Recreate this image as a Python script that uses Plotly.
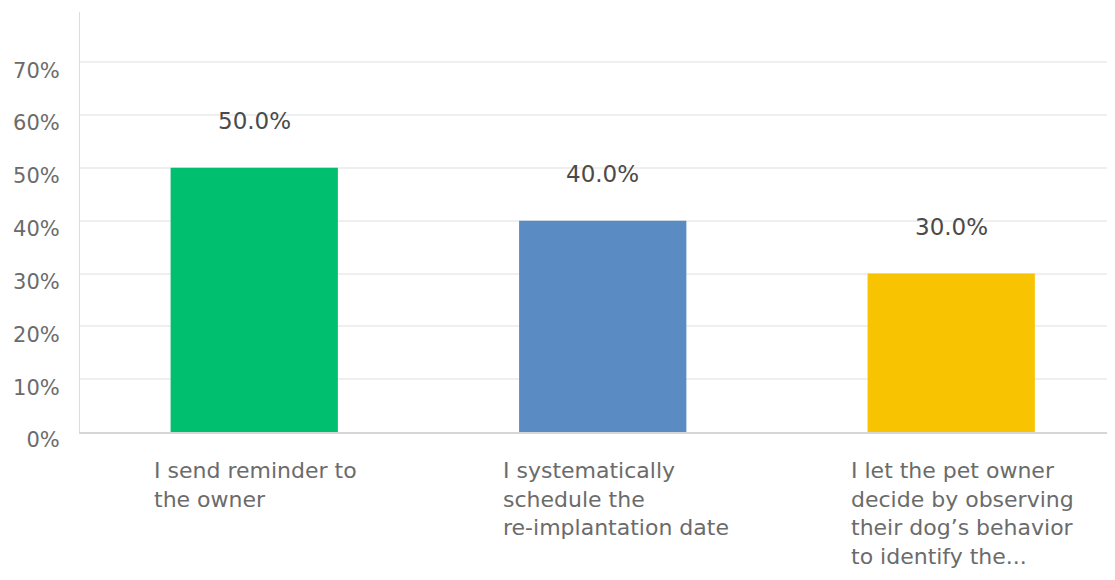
import plotly.graph_objects as go

# Datos
categorias = ['I send reminder to<br>the owner',
              'I systematically<br>schedule the<br>re-implantation date',
              'I let the pet owner<br>decide by observing<br>their dog\u2019s behavior<br>to identify the...']
valores = [50.0, 40.0, 30.0]
colores = ['#00bf6f', '#5a8bc3', '#f8c300']
ticks_y = [0, 10, 20, 30, 40, 50, 60, 70]
ticks_txt = ['0%', '10%', '20%', '30%', '40%', '50%', '60%', '70%']

pos = list(range(len(categorias)))

fig = go.Figure()

fig.add_trace(go.Bar(
    x=pos,
    y=valores,
    width=0.48,
    marker=dict(color=colores, line=dict(width=0)),
    hoverinfo='skip',
))

# etiquetas de valor sobre las barras
for p, v in zip(pos, valores):
    fig.add_annotation(
        x=p, y=v, text=f'{v:.1f}%', showarrow=False,
        yanchor='bottom', yshift=32,
        font=dict(family='DejaVu Sans', size=23, color='#4a4a4a'),
    )

# etiquetas de categoria alineadas a la izquierda
for p, c in zip(pos, categorias):
    fig.add_annotation(
        x=p, y=0, text=c, showarrow=False,
        xanchor='left', yanchor='top', align='left',
        xshift=-102, yshift=-24,
        font=dict(family='DejaVu Sans', size=22, color='#6b6b6b'),
    )

fig.update_layout(
    width=1107, height=572,
    margin=dict(l=72, r=0, t=4, b=148),
    paper_bgcolor='white',
    plot_bgcolor='white',
    showlegend=False,
    xaxis=dict(
        range=[-0.5, 2.47],
        showticklabels=False,
        showgrid=False,
        zeroline=False,
        showline=True, linecolor='#d6d6d6', linewidth=2,
        fixedrange=True,
    ),
    yaxis=dict(
        range=[0, 79.5],
        tickvals=ticks_y,
        ticktext=ticks_txt,
        showgrid=True, gridcolor='#efefef', gridwidth=2,
        zeroline=False,
        showline=True, linecolor='#dcdcdc', linewidth=1,
        ticks='', ticklabelstandoff=15, ticklabelshift=8,
        tickfont=dict(family='DejaVu Sans', size=21, color='#6b6b6b'),
        fixedrange=True,
    ),
)

fig.write_html("out.html")
